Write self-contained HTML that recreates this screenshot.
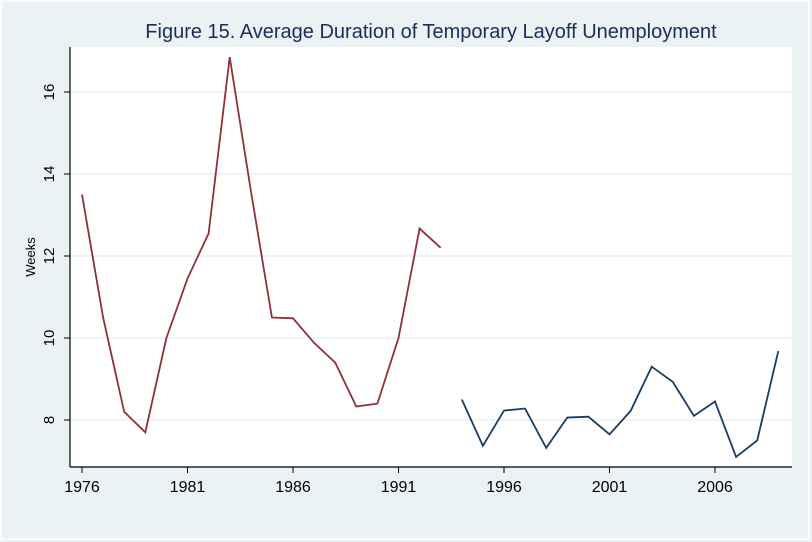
<!DOCTYPE html>
<html><head><meta charset="utf-8"><style>
body{margin:0;background:#eaf2f3;}
svg{display:block;font-family:"Liberation Sans",sans-serif;}
</style></head><body>
<svg id="chart" width="812" height="542">
<rect x="0" y="0" width="812" height="542" fill="#eaf2f3"/>
<rect x="1" y="1" width="808" height="538" fill="none" stroke="#ffffff" stroke-width="1.5"/>
<rect x="70" y="47" width="722" height="420" fill="#ffffff"/>
<text x="431" y="38" text-anchor="middle" font-size="20" fill="#1a2e5a">Figure 15. Average Duration of Temporary Layoff Unemployment</text>
<text transform="translate(35,257) rotate(-90)" text-anchor="middle" font-size="13" fill="#000">Weeks</text>
<g id="grid"></g><g id="axes"></g><g id="series"></g>
</svg>
<script>
const yearsA=[1976,1977,1978,1979,1980,1981,1982,1983,1984,1985,1986,1987,1988,1989,1990,1991,1992,1993];
const valuesA=[13.5,10.5,8.2,7.7,10.0,11.45,12.55,16.85,13.6,10.5,10.48,9.88,9.4,8.33,8.4,10.0,12.67,12.2];
const yearsB=[1994,1995,1996,1997,1998,1999,2000,2001,2002,2003,2004,2005,2006,2007,2008,2009];
const valuesB=[8.5,7.37,8.23,8.28,7.32,8.06,8.08,7.65,8.22,9.3,8.93,8.1,8.45,7.1,7.5,9.68];
const xTicks=[1976,1981,1986,1991,1996,2001,2006];
const yTicks=[8,10,12,14,16];
const NS="http://www.w3.org/2000/svg";
function X(yr){return 82+(yr-1976)*(633/30);}
function Y(v){return 420-(v-8)*41;}
function mk(tag,attrs,parent){const e=document.createElementNS(NS,tag);for(const k in attrs)e.setAttribute(k,attrs[k]);parent.appendChild(e);return e;}
const grid=document.getElementById('grid'),axes=document.getElementById('axes'),series=document.getElementById('series');
yTicks.forEach(v=>{
 const g=mk('line',{x1:70,x2:792,y1:Y(v),y2:Y(v),stroke:'#eaf2f3','stroke-width':1.5},grid);
 
 
 const t=mk('line',{x1:64,x2:70,y1:Y(v),y2:Y(v),stroke:'#000','stroke-width':1},axes);
 
 
 const l=mk('text',{transform:`translate(54,${Y(v)}) rotate(-90)`,'text-anchor':'middle','font-size':15,fill:'#000'},axes);
 l.textContent=v;
 
 
});
xTicks.forEach(yr=>{
 const t=mk('line',{x1:X(yr),x2:X(yr),y1:467,y2:473,stroke:'#000','stroke-width':1},axes);
 
 
 const l=mk('text',{x:X(yr),y:492,'text-anchor':'middle','font-size':16,fill:'#000'},axes);
 l.textContent=yr;
 
 
});
const ya=mk('line',{x1:70,x2:70,y1:47,y2:467,stroke:'#000','stroke-width':1.2},axes);


const xa=mk('line',{x1:70,x2:792,y1:467,y2:467,stroke:'#000','stroke-width':1.2},axes);


const pa=mk('polyline',{points:yearsA.map((y,i)=>X(y)+','+Y(valuesA[i])).join(' '),fill:'none',stroke:'#903038','stroke-width':1.8},series);


const pb=mk('polyline',{points:yearsB.map((y,i)=>X(y)+','+Y(valuesB[i])).join(' '),fill:'none',stroke:'#1a3d64','stroke-width':1.8},series);


</script>
</body></html>
